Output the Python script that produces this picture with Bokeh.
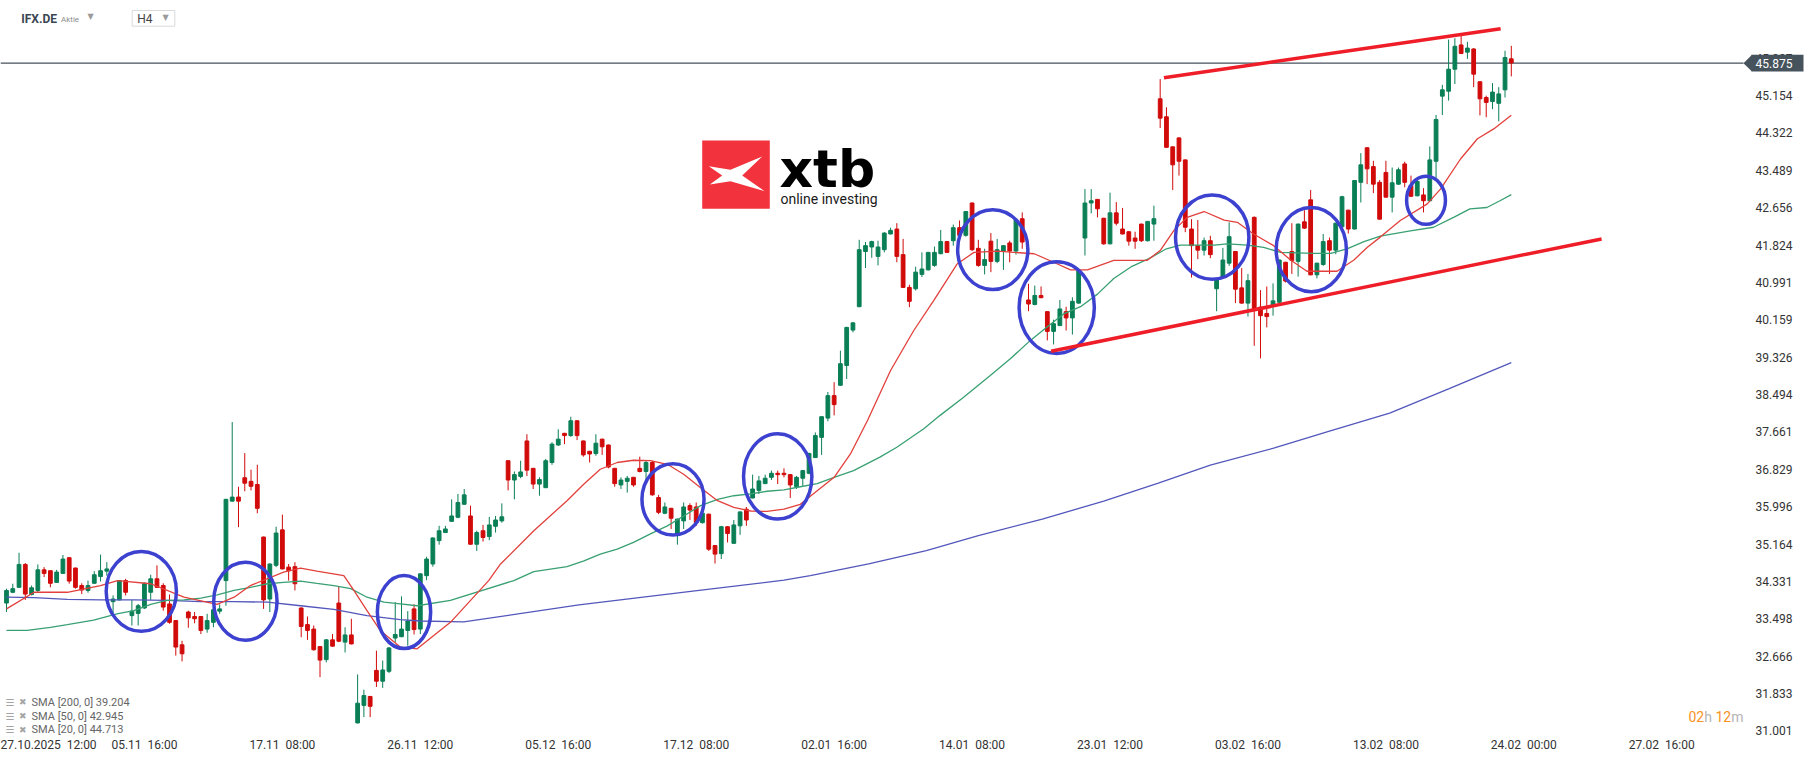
from bokeh.plotting import figure
from bokeh.models import Range1d, FixedTicker, ColumnDataSource
from bokeh.core.properties import value
from bokeh.embed import file_html
from bokeh.resources import INLINE

# ---------------- data ----------------
opens = [33.85, 34.09, 34.20, 34.71, 34.04, 34.13, 34.59, 34.57, 34.31, 34.51,
         34.86, 34.63, 34.24, 34.13, 34.29, 34.44, 34.56, 33.88, 33.92, 34.35,
         33.57, 33.62, 33.74, 34.09, 34.39, 34.24, 33.83, 33.46, 32.92, 33.65,
         33.55, 33.55, 33.27, 33.42, 33.67, 34.35, 36.12, 36.21, 36.64, 36.56,
         36.49, 35.32, 33.94, 34.69, 35.48, 34.65, 34.66, 33.74, 33.37, 33.27,
         32.88, 32.59, 33.03, 33.85, 32.98, 33.14, 31.18, 31.57, 31.77, 32.35,
         32.11, 32.33, 33.07, 33.10, 33.24, 33.72, 33.27, 34.46, 34.72, 35.24,
         35.42, 35.67, 35.76, 36.05, 35.79, 35.16, 35.46, 35.33, 35.56, 35.68,
         37.02, 36.59, 36.67, 37.46, 36.85, 36.50, 36.42, 36.98, 37.37, 37.63,
         37.58, 37.91, 37.46, 37.23, 37.18, 37.50, 37.37, 36.85, 36.48, 36.56,
         36.65, 36.85, 36.78, 36.98, 36.20, 35.85, 35.96, 35.39, 35.68, 36.02,
         35.99, 35.64, 35.83, 35.13, 34.95, 35.55, 35.18, 35.57, 35.94, 36.19,
         36.36, 36.51, 36.65, 36.74, 36.74, 36.71, 36.44, 36.63, 36.74, 37.09,
         37.54, 37.97, 38.47, 38.70, 39.14, 39.93, 40.45, 41.68, 41.78, 41.57,
         41.72, 42.07, 42.18, 41.61, 40.88, 40.85, 41.17, 41.27, 41.37, 41.63,
         41.90, 41.92, 42.21, 42.04, 42.76, 41.75, 41.37, 41.91, 41.46, 41.69,
         41.87, 41.69, 42.41, 40.60, 40.50, 40.70, 40.34, 39.90, 40.03, 40.34,
         40.20, 40.53, 41.98, 42.76, 42.84, 42.42, 41.85, 42.54, 42.18, 42.12,
         41.98, 42.29, 41.92, 42.29, 45.08, 44.68, 44.01, 44.21, 43.72, 42.18,
         41.81, 41.71, 41.92, 40.85, 41.10, 41.42, 41.68, 40.87, 40.53, 42.44,
         40.44, 40.30, 40.47, 40.55, 41.44, 41.68, 41.46, 42.34, 42.83, 41.16,
         41.39, 41.92, 41.71, 42.23, 42.60, 42.18, 43.22, 43.99, 43.57, 43.22,
         43.44, 42.89, 43.18, 43.63, 43.15, 42.92, 42.94, 42.81, 43.69, 45.14,
         45.25, 45.74, 46.28, 46.12, 46.19, 45.46, 45.11, 45.02, 44.98, 45.28,
         45.97]
highs = [34.17, 34.28, 34.97, 34.74, 34.24, 34.71, 34.65, 34.58, 34.59, 34.92,
         34.87, 34.64, 34.29, 34.35, 34.56, 34.93, 34.76, 34.02, 34.36, 34.39,
         33.92, 33.83, 34.31, 34.48, 34.69, 34.29, 34.04, 33.47, 33.01, 33.68,
         33.65, 33.56, 33.61, 33.77, 33.82, 36.17, 37.88, 36.44, 37.19, 36.82,
         36.93, 35.33, 34.73, 35.55, 35.82, 34.72, 34.76, 33.75, 33.55, 33.35,
         32.89, 33.05, 33.16, 34.22, 33.31, 33.50, 32.26, 31.92, 31.78, 32.79,
         32.57, 32.87, 33.87, 34.00, 33.67, 33.82, 34.51, 34.88, 35.31, 35.57,
         35.57, 36.16, 36.28, 36.39, 36.02, 35.46, 35.59, 35.77, 35.79, 36.07,
         37.03, 36.78, 37.02, 37.61, 36.86, 36.65, 37.06, 37.43, 37.72, 37.64,
         38.00, 37.92, 37.47, 37.24, 37.61, 37.51, 37.38, 36.86, 36.65, 36.68,
         36.66, 37.11, 37.02, 37.02, 36.26, 36.09, 35.97, 35.73, 36.09, 36.07,
         36.09, 35.86, 35.84, 35.14, 35.57, 35.56, 35.70, 35.89, 35.99, 36.71,
         36.68, 36.71, 36.80, 36.80, 36.85, 36.72, 36.68, 36.81, 37.20, 37.65,
         38.01, 38.55, 38.77, 39.47, 40.00, 40.11, 41.94, 41.89, 41.92, 41.92,
         42.11, 42.21, 42.31, 41.96, 40.94, 41.34, 41.66, 41.67, 41.79, 42.16,
         41.91, 42.28, 42.37, 42.58, 42.77, 41.94, 41.74, 42.09, 41.96, 41.82,
         41.92, 42.39, 42.55, 40.96, 40.92, 40.90, 40.35, 40.16, 40.60, 40.45,
         40.66, 41.27, 43.07, 43.07, 42.85, 42.43, 42.99, 42.78, 42.65, 42.13,
         42.12, 42.30, 42.36, 42.70, 45.52, 44.89, 44.02, 44.22, 43.73, 42.40,
         42.38, 41.99, 42.03, 41.08, 41.76, 42.33, 41.69, 41.31, 41.18, 42.46,
         40.82, 40.90, 40.97, 41.50, 41.45, 42.31, 42.30, 42.60, 43.05, 41.43,
         42.07, 41.99, 42.32, 42.92, 42.61, 43.27, 43.87, 44.00, 43.70, 43.27,
         43.70, 43.55, 43.55, 43.68, 43.37, 43.33, 43.09, 44.02, 44.72, 45.39,
         46.40, 46.43, 46.49, 46.35, 46.21, 45.47, 45.15, 45.43, 45.34, 46.15,
         46.26]
lows = [33.65, 34.07, 34.19, 33.92, 34.02, 34.09, 34.43, 34.20, 34.30, 34.50,
        34.28, 34.17, 34.05, 34.08, 34.28, 34.33, 34.46, 33.61, 33.91, 34.02,
        33.35, 33.35, 33.72, 33.92, 34.19, 33.68, 33.39, 32.68, 32.55, 33.30,
        33.40, 33.16, 33.19, 33.31, 33.61, 33.79, 36.11, 35.54, 36.34, 36.36,
        35.85, 33.72, 33.65, 34.65, 34.60, 34.35, 34.13, 33.09, 33.03, 32.79,
        32.20, 32.53, 32.88, 32.98, 32.75, 32.93, 31.17, 31.31, 31.31, 31.98,
        31.96, 32.29, 32.98, 33.09, 32.90, 33.15, 33.16, 34.36, 34.66, 35.15,
        35.41, 35.66, 35.74, 36.04, 35.15, 35.01, 35.22, 35.25, 35.42, 35.64,
        36.36, 36.16, 36.63, 36.68, 36.39, 36.24, 36.41, 36.93, 37.35, 37.39,
        37.55, 37.48, 37.11, 36.98, 37.13, 37.15, 36.85, 36.44, 36.39, 36.31,
        36.44, 36.76, 36.56, 36.24, 35.83, 35.83, 35.50, 35.15, 35.50, 35.70,
        35.57, 35.62, 35.01, 34.73, 34.83, 35.20, 35.17, 35.37, 35.57, 36.18,
        36.28, 36.50, 36.59, 36.50, 36.65, 36.19, 36.39, 36.46, 36.72, 37.08,
        37.15, 37.90, 38.03, 38.69, 38.84, 39.88, 40.44, 41.31, 41.54, 41.37,
        41.66, 42.06, 41.44, 40.87, 40.44, 40.81, 41.11, 41.26, 41.34, 41.62,
        41.65, 41.81, 42.03, 42.01, 41.69, 41.34, 41.17, 41.22, 41.42, 41.27,
        41.44, 41.61, 41.74, 40.35, 40.48, 40.64, 39.70, 39.61, 40.02, 39.92,
        39.83, 40.52, 41.59, 42.53, 42.44, 41.83, 41.84, 42.26, 42.06, 41.81,
        41.74, 41.89, 41.90, 41.92, 44.43, 43.99, 43.05, 43.37, 42.11, 41.10,
        41.51, 41.59, 41.53, 40.35, 41.09, 41.36, 40.53, 40.52, 40.23, 39.58,
        39.30, 39.99, 40.25, 40.53, 40.99, 41.18, 41.12, 42.19, 41.15, 41.08,
        41.36, 41.18, 41.62, 42.22, 42.08, 42.17, 42.77, 43.18, 42.98, 42.39,
        42.88, 42.55, 43.16, 43.11, 42.89, 42.91, 42.55, 42.80, 43.29, 44.72,
        45.04, 45.41, 46.08, 45.97, 45.34, 44.71, 44.67, 44.85, 44.58, 45.11,
        45.58]
closes = [34.13, 34.17, 34.71, 34.05, 34.19, 34.59, 34.51, 34.29, 34.54, 34.83,
          34.34, 34.20, 34.14, 34.24, 34.48, 34.57, 34.61, 33.94, 34.35, 34.09,
          33.67, 33.79, 34.29, 34.39, 34.20, 33.76, 33.42, 32.87, 32.72, 33.52,
          33.50, 33.24, 33.46, 33.70, 33.72, 36.16, 36.21, 36.12, 36.52, 36.45,
          35.96, 33.92, 34.72, 35.41, 34.61, 34.57, 34.28, 33.33, 33.24, 32.81,
          32.58, 33.03, 32.89, 33.00, 33.14, 32.94, 31.62, 31.79, 31.55, 32.11,
          32.36, 32.85, 33.15, 33.27, 33.45, 33.26, 34.50, 34.83, 35.30, 35.46,
          35.50, 35.79, 36.09, 36.26, 35.16, 35.42, 35.31, 35.59, 35.70, 35.77,
          36.59, 36.71, 36.77, 36.81, 36.50, 36.60, 37.02, 37.39, 37.50, 37.58,
          37.91, 37.58, 37.15, 37.17, 37.41, 37.33, 36.88, 36.51, 36.59, 36.63,
          36.48, 36.78, 36.98, 36.26, 35.87, 35.99, 35.74, 35.72, 35.99, 35.92,
          35.64, 35.85, 35.05, 34.94, 35.55, 35.40, 35.59, 35.88, 35.70, 36.39,
          36.57, 36.63, 36.74, 36.71, 36.71, 36.48, 36.65, 36.80, 37.18, 37.58,
          38.00, 38.47, 38.27, 39.18, 39.99, 40.09, 41.72, 41.81, 41.90, 41.78,
          42.09, 42.15, 41.57, 40.88, 40.57, 41.22, 41.29, 41.66, 41.66, 41.90,
          41.66, 42.21, 42.04, 42.57, 41.72, 41.37, 41.50, 41.46, 41.72, 41.81,
          41.69, 42.38, 41.89, 40.51, 40.70, 40.65, 39.90, 40.07, 40.40, 40.20,
          40.57, 41.26, 42.76, 42.81, 42.63, 41.85, 42.54, 42.31, 42.07, 41.91,
          41.91, 41.92, 42.35, 42.41, 44.65, 44.00, 43.61, 43.69, 42.22, 41.81,
          41.71, 41.92, 41.61, 41.07, 41.49, 42.01, 40.84, 40.53, 41.03, 40.40,
          40.25, 40.23, 40.58, 41.49, 41.02, 41.48, 42.29, 42.20, 41.16, 41.42,
          41.90, 41.71, 42.31, 42.90, 42.18, 43.26, 43.61, 43.52, 43.18, 42.40,
          42.89, 43.21, 43.50, 43.22, 42.91, 43.24, 42.81, 43.72, 44.62, 45.28,
          45.74, 46.25, 46.09, 46.21, 45.63, 45.08, 45.00, 45.23, 45.19, 46.00,
          45.88]

# moving averages, sampled along the drawn lines (bar index, price)
sma20_x = [0, 4.4, 9.7, 15, 17.7, 23, 28.3, 33.6, 36.3, 38.9, 44.2, 46.9, 49.5, 53.8, 55.4, 57.5,
           59.6, 62.8, 65.5, 70.8, 76.9, 78.8, 84.1, 89.4, 92.1, 94.7, 97.4, 100, 102.7, 105.4,
           108, 110.7, 113.4, 116, 118.7, 121.3, 124, 126.6, 129.3, 132, 134.6, 137.3, 141,
           144.7, 147.9, 151.6, 154.3, 158, 160.7, 163.9, 167, 169.7, 172.4, 176.6, 181.9, 184,
           186.2, 188.3, 191, 194.2, 196.3, 198.9, 202.1, 204.8, 207.4, 212.2, 214.9, 217,
           219.1, 222.3, 226.6, 228.7, 231.9, 234.6, 237.2, 240]
sma20_y = [33.72, 34.09, 34.09, 34.24, 34.35, 34.28, 33.98, 33.82, 33.98, 34.24, 34.54, 34.63,
           34.56, 34.46, 34.13, 33.68, 33.24, 32.87, 32.83, 33.42, 34.35, 34.72, 35.46, 36.13,
           36.50, 36.83, 36.98, 37.03, 37.02, 36.94, 36.72, 36.42, 36.13, 35.98, 35.90, 35.89,
           35.94, 36.05, 36.35, 36.65, 37.17, 37.91, 39.03, 39.92, 40.59, 41.40, 41.66, 41.69,
           41.66, 41.63, 41.44, 41.27, 41.27, 41.48, 41.48, 41.70, 42.15, 42.44, 42.57, 42.38,
           42.33, 42.07, 41.81, 41.49, 41.24, 41.24, 41.49, 41.77, 42.00, 42.37, 42.74, 43.07,
           43.74, 44.19, 44.41, 44.713]
sma50_x = [0, 3.3, 7, 9.7, 13.9, 17.6, 20.3, 23, 25.6, 28.3, 31, 33.6, 36.3, 38.9, 41.6, 44.2,
           46.9, 49.5, 52.2, 54.9, 57.5, 60.2, 62.8, 65.5, 70.8, 80.9, 84.1, 89.4, 92.1, 94.7,
           97.4, 100, 102.7, 105.4, 108, 110.7, 113.4, 116, 118.7, 121.3, 124, 126.6, 129.3,
           132, 135.1, 139.3, 142, 146.3, 148.9, 152.6, 156.9, 160.1, 163.3, 165.9, 168.6,
           171.3, 174, 176.6, 179.5, 182.2, 185, 187.2, 192.6, 194.7, 197.9, 200.5, 203.2,
           208.5, 211.2, 213.8, 216.5, 219.1, 223.9, 227.6, 230.8, 233.4, 236.1, 238.2, 240]
sma50_y = [33.24, 33.24, 33.31, 33.37, 33.47, 33.61, 33.68, 33.82, 33.91, 33.92, 33.96, 34.03,
           34.13, 34.20, 34.28, 34.31, 34.34, 34.29, 34.24, 34.17, 33.98, 33.87, 33.83, 33.79,
           33.91, 34.35, 34.55, 34.66, 34.79, 34.94, 35.05, 35.20, 35.39, 35.57, 35.79, 36.02,
           36.16, 36.24, 36.28, 36.34, 36.37, 36.44, 36.51, 36.65, 36.80, 37.10, 37.32, 37.73,
           38.03, 38.43, 38.92, 39.29, 39.70, 39.99, 40.29, 40.45, 40.73, 41.08, 41.35, 41.52,
           41.74, 41.82, 41.82, 41.85, 41.82, 41.77, 41.66, 41.64, 41.64, 41.74, 41.90, 42.02,
           42.14, 42.22, 42.44, 42.63, 42.66, 42.81, 42.945]
sma200_x = [0, 4.4, 9.7, 15, 20.3, 25.6, 31, 36.3, 41.6, 46.9, 52.2, 57.5, 62.8, 66, 72.9,
            91.3, 109.8, 124, 128.2, 137.5, 146.7, 155, 165.2, 175, 183.7, 192, 202.1, 211,
            220.6, 230, 240]
sma200_y = [33.98, 33.97, 33.93, 33.92, 33.92, 33.91, 33.88, 33.88, 33.87, 33.79, 33.71, 33.57,
            33.48, 33.45, 33.43, 33.81, 34.12, 34.36, 34.46, 34.72, 35.02, 35.35, 35.72, 36.12,
            36.52, 36.92, 37.30, 37.68, 38.08, 38.62, 39.204]

x_tick_idx = [0, 22, 44, 66, 88, 110, 132, 154, 176, 198, 220, 242, 264]
x_tick_labels = ["27.10.2025 \u00a012:00", "05.11 \u00a016:00", "17.11 \u00a008:00",
                 "26.11 \u00a012:00", "05.12 \u00a016:00", "17.12 \u00a008:00",
                 "02.01 \u00a016:00", "14.01 \u00a008:00", "23.01 \u00a012:00",
                 "03.02 \u00a016:00", "13.02 \u00a008:00", "24.02 \u00a000:00",
                 "27.02 \u00a016:00"]
y_ticks = [31.001, 31.833, 32.666, 33.498, 34.331, 35.164, 35.996, 36.829, 37.661, 38.494,
           39.326, 40.159, 40.991, 41.824, 42.656, 43.489, 44.322, 45.154, 45.987]
last_price = 45.875
legend_rows = ["SMA [200,  0] 39.204", "SMA [50,  0] 42.945", "SMA [20,  0] 44.713"]

# hand-drawn annotations (bar index, price, width in bars, height in price)
ellipses_x = [21.5, 38.1, 63.4, 106.3, 123.0, 157.3, 167.5, 192.3, 208.1, 226.4]
ellipses_y = [34.11, 33.89, 33.65, 36.16, 36.67, 41.72, 40.43, 42.00, 41.72, 42.82]
ellipses_w = [11.2, 10.1, 8.5, 9.9, 10.9, 11.2, 12.0, 11.7, 11.2, 6.2]
ellipses_h = [1.78, 1.74, 1.63, 1.59, 1.90, 1.78, 2.04, 1.88, 1.88, 1.07]
trend_x0 = [184.6, 166.6]
trend_y0 = [45.55, 39.46]
trend_x1 = [238.3, 254.4]
trend_y1 = [46.64, 41.96]

# ---------------- geometry ----------------
PX = 6.27          # pixels per bar
PPU = 44.9         # pixels per price unit
X0 = -6.0 / PX
FW, FH = 1807, 737
Y_TOP = 45.154 + 95.0 / PPU
Y_BOT = Y_TOP - FH / PPU


def rx(x):
    return (x - 6.0) / PX


def ry(y):
    return 45.154 - (y - 95.0) / PPU


p = figure(frame_width=FW, frame_height=FH,
           x_range=Range1d(X0, X0 + FW / PX), y_range=Range1d(Y_BOT, Y_TOP),
           output_backend="svg", toolbar_location=None, y_axis_location=None,
           min_border_left=0, min_border_right=0, min_border_top=0, min_border_bottom=0)
p.outline_line_color = None
p.grid.visible = False
p.background_fill_color = "white"
p.border_fill_color = "white"

xa = p.xaxis[0]
xa.ticker = FixedTicker(ticks=x_tick_idx)
xa.major_label_overrides = {k: v for k, v in zip(x_tick_idx, x_tick_labels)}
xa.axis_line_color = None
xa.major_tick_line_color = None
xa.minor_tick_line_color = None
xa.major_tick_out = 0
xa.major_tick_in = 0
xa.major_label_standoff = 0
xa.major_label_text_align = "left"
xa.major_label_text_font = "Roboto"
xa.major_label_text_font_size = "12px"
xa.major_label_text_color = "#333333"

# ---------------- logo ----------------
p.quad(left=[rx(701.7)], right=[rx(769.3)], top=[ry(140)], bottom=[ry(208.3)],
       fill_color="#f2333e", line_color=None)
logo_px = [708.3, 730, 761.7, 741.7, 764, 730, 709.3, 721.7]
logo_py = [165.7, 169.3, 156, 175, 190.7, 180.7, 184, 175]
p.patch([rx(v) for v in logo_px], [ry(v) for v in logo_py], fill_color="white", line_color=None)
p.text(x=[rx(779)], y=[ry(168.5)], text=["xtb"],
       text_font=value("DejaVu Sans"), text_font_style="bold", text_font_size="52px",
       text_color="#000000", text_align="left", text_baseline="middle")
p.text(x=[rx(780)], y=[ry(198.5)], text=["online investing"], text_font=value("Roboto"),
       text_font_size="14px", text_color="#1a1a1a", text_baseline="middle")

# ---------------- price scale (right) ----------------
p.text(x=[rx(1755)] * len(y_ticks), y=y_ticks, text=["%.3f" % t for t in y_ticks],
       text_font=value("Roboto"), text_font_size="12px", text_color="#333333",
       text_baseline="middle", text_align="left")

# ---------------- price line and marker ----------------
p.segment(x0=[X0], y0=[last_price], x1=[rx(1743)], y1=[last_price], line_color="#46525c",
          line_width=1.3)
hh = 8.3 / PPU
p.quad(left=[rx(1751)], right=[rx(1803)], top=[last_price + hh], bottom=[last_price - hh],
       fill_color="#46525c", line_color=None)
p.patch([rx(1743), rx(1751.5), rx(1751.5)], [last_price, last_price + hh, last_price - hh],
        fill_color="#46525c", line_color=None)
p.text(x=[rx(1755)], y=[last_price], text=["%.3f" % last_price], text_font=value("Roboto"),
       text_font_size="12px", text_color="white", text_baseline="middle", text_align="left")

# ---------------- candles ----------------
idx = list(range(len(opens)))
up = [c >= o for o, c in zip(opens, closes)]
src = ColumnDataSource(dict(
    x=idx, o=opens, h=highs, l=lows, c=closes,
    top=[max(o, c) for o, c in zip(opens, closes)],
    bot=[min(o, c) for o, c in zip(opens, closes)],
    col=["#0a7f56" if u else "#d10a0a" for u in up]))
p.segment(x0="x", y0="l", x1="x", y1="h", line_color="col", line_width=1, source=src)
p.vbar(x="x", width=0.6, top="top", bottom="bot", fill_color="col", line_color="col",
       line_width=1, source=src)

# ---------------- moving averages ----------------
p.line(sma200_x, sma200_y, line_color="#5357bb", line_width=1.3)
p.line(sma50_x, sma50_y, line_color="#38a072", line_width=1.3)
p.line(sma20_x, sma20_y, line_color="#e2403c", line_width=1.3)

# ---------------- annotations ----------------
p.ellipse(x=ellipses_x, y=ellipses_y, width=ellipses_w, height=ellipses_h,
          fill_color=None, line_color="#3d41cf", line_width=3.5)
p.segment(x0=trend_x0, y0=trend_y0, x1=trend_x1, y1=trend_y1, line_color="#ef1d27",
          line_width=3.5)

# ---------------- header ----------------
p.text(x=[rx(20.7)], y=[ry(18)], text=["IFX.DE"], text_font=value("Roboto"),
       text_font_style="bold", text_font_size="12px", text_color="#3a4651", text_baseline="middle")
p.text(x=[rx(60.5)], y=[ry(19)], text=["Aktie"], text_font=value("Roboto"),
       text_font_size="8px", text_color="#8c8c8c", text_baseline="middle")
p.quad(left=[rx(131.7)], right=[rx(174.3)], top=[ry(10)], bottom=[ry(25.7)],
       fill_color="white", line_color="#d9d9d9", line_width=1)
p.text(x=[rx(136.7)], y=[ry(18.5)], text=["H4"], text_font=value("Roboto"),
       text_font_size="12px", text_color="#444444", text_baseline="middle")
p.text(x=[rx(87), rx(162)], y=[ry(16), ry(16.5)], text=["▼", "▼"], text_font=value("DejaVu Sans"),
       text_font_size="8px", text_color="#9a9a9a", text_baseline="middle")

# ---------------- legend (bottom left) ----------------
ly = [ry(701.7), ry(715.7), ry(729.3)]
p.text(x=[rx(5)] * 3, y=ly, text=["☰"] * 3, text_font=value("DejaVu Sans"),
       text_font_size="10px", text_color="#a5a5a5", text_baseline="middle")
p.text(x=[rx(18.5)] * 3, y=ly, text=["✖"] * 3, text_font=value("DejaVu Sans"),
       text_font_size="9px", text_color="#a5a5a5", text_baseline="middle")
p.text(x=[rx(31)] * 3, y=ly, text=legend_rows, text_font=value("Roboto"),
       text_font_size="11px", text_color="#666666", text_baseline="middle")

# ---------------- countdown ----------------
cx = rx(1688)
p.text(x=[cx] * 4, y=[ry(716)] * 4, text=["02", "h", "12", "m"],
       x_offset=[0, 15.8, 27, 42.8], text_font=value("Roboto"), text_font_size="14px",
       text_color=["#f7931e", "#b5b5b5", "#f7931e", "#b5b5b5"], text_baseline="middle")

open("out.html", "w").write(file_html(p, INLINE))
